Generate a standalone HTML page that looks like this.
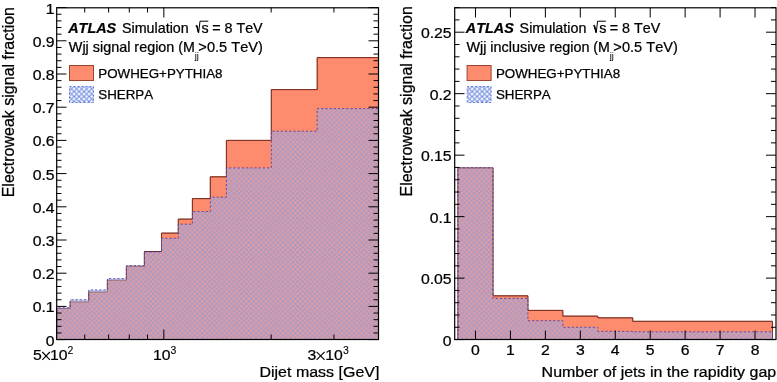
<!DOCTYPE html>
<html><head><meta charset="utf-8"><title>EW signal fraction</title>
<style>html,body{margin:0;padding:0;background:#fff;}body{width:777px;height:382px;overflow:hidden;}
svg{display:block;will-change:transform;filter:blur(0.3px);}
svg text{fill:#000;stroke:#000;stroke-width:0.25px;font-family:"Liberation Sans", sans-serif;font-kerning:none;}</style>
</head><body>
<svg width="777" height="382" viewBox="0 0 777 382">
<defs><pattern id="hatch" x="69.1" y="86.5" width="5" height="5" patternUnits="userSpaceOnUse"><path d="M-1,1 L1,-1 M0,5 L5,0 M4,6 L6,4 M-1,4 L1,6 M0,0 L5,5 M4,-1 L6,1" stroke="#7590e2" stroke-width="1.2"/></pattern><pattern id="hatch2" x="467.1" y="86.5" width="5" height="5" patternUnits="userSpaceOnUse"><path d="M-1,1 L1,-1 M0,5 L5,0 M4,6 L6,4 M-1,4 L1,6 M0,0 L5,5 M4,-1 L6,1" stroke="#7590e2" stroke-width="1.2"/></pattern><pattern id="shp" x="0.1" y="1.1" width="4.9" height="4.9" patternUnits="userSpaceOnUse"><rect x="0" y="0" width="4.9" height="4.9" fill="rgb(168,154,196)"/><rect x="0" y="0" width="2.45" height="2.45" fill="rgb(224,156,162)"/><rect x="2.45" y="2.45" width="2.45" height="2.45" fill="rgb(224,156,162)"/></pattern></defs>
<rect width="777" height="382" fill="#fff"/>
<path d="M56.50,339.50 L56.50,308.50 L70.20,308.50 L70.20,301.90 L88.80,301.90 L88.80,292.00 L107.40,292.00 L107.40,280.20 L126.40,280.20 L126.40,266.30 L144.40,266.30 L144.40,251.50 L161.50,251.50 L161.50,233.10 L178.30,233.10 L178.30,219.10 L192.40,219.10 L192.40,198.60 L210.30,198.60 L210.30,176.80 L226.40,176.80 L226.40,140.40 L271.30,140.40 L271.30,89.60 L317.20,89.60 L317.20,57.60 L378.50,57.60 L378.50,339.50 Z" fill="#fd8b6d" stroke="none"/>
<path d="M56.50,339.50 L56.50,308.50 L70.20,308.50 L70.20,301.90 L88.80,301.90 L88.80,292.00 L107.40,292.00 L107.40,280.20 L126.40,280.20 L126.40,266.30 L144.40,266.30 L144.40,251.50 L161.50,251.50 L161.50,233.10 L178.30,233.10 L178.30,219.10 L192.40,219.10 L192.40,198.60 L210.30,198.60 L210.30,176.80 L226.40,176.80 L226.40,140.40 L271.30,140.40 L271.30,89.60 L317.20,89.60 L317.20,57.60 L378.50,57.60 L378.50,339.50" fill="none" stroke="#7b2d1e" stroke-width="1"/>
<path d="M56.50,339.50 L56.50,307.80 L70.20,307.80 L70.20,299.80 L88.80,299.80 L88.80,289.90 L107.40,289.90 L107.40,278.70 L126.40,278.70 L126.40,265.70 L144.40,265.70 L144.40,251.90 L161.50,251.90 L161.50,238.30 L178.30,238.30 L178.30,224.20 L192.40,224.20 L192.40,211.60 L210.30,211.60 L210.30,197.20 L226.40,197.20 L226.40,167.90 L271.30,167.90 L271.30,131.20 L317.20,131.20 L317.20,108.60 L378.50,108.60 L378.50,339.50 Z" fill="url(#shp)" stroke="none"/>
<rect x="56.50" y="307.80" width="13.70" height="0.70" fill="rgb(190,204,245)"/>
<rect x="70.20" y="299.80" width="18.60" height="2.10" fill="rgb(190,204,245)"/>
<rect x="88.80" y="289.90" width="18.60" height="2.10" fill="rgb(190,204,245)"/>
<rect x="107.40" y="278.70" width="19.00" height="1.50" fill="rgb(190,204,245)"/>
<rect x="126.40" y="265.70" width="18.00" height="0.60" fill="rgb(190,204,245)"/>
<path d="M56.50,339.50 L56.50,308.50 L70.20,308.50 L70.20,301.90 L88.80,301.90 L88.80,292.00 L107.40,292.00 L107.40,280.20 L126.40,280.20 L126.40,266.30 L144.40,266.30 L144.40,251.50 L161.50,251.50 L161.50,233.10 L178.30,233.10 L178.30,219.10 L192.40,219.10 L192.40,198.60 L210.30,198.60 L210.30,176.80 L226.40,176.80 L226.40,140.40 L271.30,140.40 L271.30,89.60 L317.20,89.60 L317.20,57.60 L378.50,57.60 L378.50,339.50" fill="none" stroke="#7b2d1e" stroke-opacity="0.5" stroke-width="1"/>
<path d="M56.50,339.50 L56.50,307.80 L70.20,307.80 L70.20,299.80 L88.80,299.80 L88.80,289.90 L107.40,289.90 L107.40,278.70 L126.40,278.70 L126.40,265.70 L144.40,265.70 L144.40,251.90 L161.50,251.90 L161.50,238.30 L178.30,238.30 L178.30,224.20 L192.40,224.20 L192.40,211.60 L210.30,211.60 L210.30,197.20 L226.40,197.20 L226.40,167.90 L271.30,167.90 L271.30,131.20 L317.20,131.20 L317.20,108.60 L378.50,108.60 L378.50,339.50" fill="none" stroke="#4a3ca8" stroke-opacity="0.85" stroke-width="1" stroke-dasharray="2.1,2.1"/>
<path d="M457.99,339.50 L457.99,168.00 L492.94,168.00 L492.94,295.80 L527.89,295.80 L527.89,310.40 L562.83,310.40 L562.83,316.10 L597.78,316.10 L597.78,317.80 L632.72,317.80 L632.72,321.30 L667.67,321.30 L667.67,321.30 L702.61,321.30 L702.61,321.30 L737.56,321.30 L737.56,321.30 L772.51,321.30 L772.51,339.50 Z" fill="#fd8b6d" stroke="none"/>
<path d="M457.99,339.50 L457.99,168.00 L492.94,168.00 L492.94,295.80 L527.89,295.80 L527.89,310.40 L562.83,310.40 L562.83,316.10 L597.78,316.10 L597.78,317.80 L632.72,317.80 L632.72,321.30 L667.67,321.30 L667.67,321.30 L702.61,321.30 L702.61,321.30 L737.56,321.30 L737.56,321.30 L772.51,321.30 L772.51,339.50" fill="none" stroke="#7b2d1e" stroke-width="1"/>
<path d="M457.99,339.50 L457.99,167.70 L492.94,167.70 L492.94,298.40 L527.89,298.40 L527.89,320.70 L562.83,320.70 L562.83,327.30 L597.78,327.30 L597.78,331.40 L632.72,331.40 L632.72,331.80 L667.67,331.80 L667.67,331.80 L702.61,331.80 L702.61,331.80 L737.56,331.80 L737.56,331.80 L772.51,331.80 L772.51,339.50 Z" fill="url(#shp)" stroke="none"/>
<path d="M457.99,339.50 L457.99,168.00 L492.94,168.00 L492.94,295.80 L527.89,295.80 L527.89,310.40 L562.83,310.40 L562.83,316.10 L597.78,316.10 L597.78,317.80 L632.72,317.80 L632.72,321.30 L667.67,321.30 L667.67,321.30 L702.61,321.30 L702.61,321.30 L737.56,321.30 L737.56,321.30 L772.51,321.30 L772.51,339.50" fill="none" stroke="#7b2d1e" stroke-opacity="0.5" stroke-width="1"/>
<path d="M457.99,339.50 L457.99,167.70 L492.94,167.70 L492.94,298.40 L527.89,298.40 L527.89,320.70 L562.83,320.70 L562.83,327.30 L597.78,327.30 L597.78,331.40 L632.72,331.40 L632.72,331.80 L667.67,331.80 L667.67,331.80 L702.61,331.80 L702.61,331.80 L737.56,331.80 L737.56,331.80 L772.51,331.80 L772.51,339.50" fill="none" stroke="#4a3ca8" stroke-opacity="0.85" stroke-width="1" stroke-dasharray="2.1,2.1"/>
<rect x="56.7" y="7.8" width="321.8" height="331.7" fill="none" stroke="#000" stroke-width="1.2"/>
<rect x="454.7" y="7.8" width="321.3" height="331.7" fill="none" stroke="#000" stroke-width="1.2"/>
<line x1="56.50" y1="339.60" x2="66.50" y2="339.60" stroke="#000" stroke-width="1" />
<line x1="378.50" y1="339.60" x2="368.50" y2="339.60" stroke="#000" stroke-width="1" />
<line x1="56.50" y1="332.96" x2="61.50" y2="332.96" stroke="#000" stroke-width="1" />
<line x1="378.50" y1="332.96" x2="373.50" y2="332.96" stroke="#000" stroke-width="1" />
<line x1="56.50" y1="326.32" x2="61.50" y2="326.32" stroke="#000" stroke-width="1" />
<line x1="378.50" y1="326.32" x2="373.50" y2="326.32" stroke="#000" stroke-width="1" />
<line x1="56.50" y1="319.68" x2="61.50" y2="319.68" stroke="#000" stroke-width="1" />
<line x1="378.50" y1="319.68" x2="373.50" y2="319.68" stroke="#000" stroke-width="1" />
<line x1="56.50" y1="313.04" x2="61.50" y2="313.04" stroke="#000" stroke-width="1" />
<line x1="378.50" y1="313.04" x2="373.50" y2="313.04" stroke="#000" stroke-width="1" />
<line x1="56.50" y1="306.40" x2="66.50" y2="306.40" stroke="#000" stroke-width="1" />
<line x1="378.50" y1="306.40" x2="368.50" y2="306.40" stroke="#000" stroke-width="1" />
<line x1="56.50" y1="299.76" x2="61.50" y2="299.76" stroke="#000" stroke-width="1" />
<line x1="378.50" y1="299.76" x2="373.50" y2="299.76" stroke="#000" stroke-width="1" />
<line x1="56.50" y1="293.12" x2="61.50" y2="293.12" stroke="#000" stroke-width="1" />
<line x1="378.50" y1="293.12" x2="373.50" y2="293.12" stroke="#000" stroke-width="1" />
<line x1="56.50" y1="286.48" x2="61.50" y2="286.48" stroke="#000" stroke-width="1" />
<line x1="378.50" y1="286.48" x2="373.50" y2="286.48" stroke="#000" stroke-width="1" />
<line x1="56.50" y1="279.84" x2="61.50" y2="279.84" stroke="#000" stroke-width="1" />
<line x1="378.50" y1="279.84" x2="373.50" y2="279.84" stroke="#000" stroke-width="1" />
<line x1="56.50" y1="273.20" x2="66.50" y2="273.20" stroke="#000" stroke-width="1" />
<line x1="378.50" y1="273.20" x2="368.50" y2="273.20" stroke="#000" stroke-width="1" />
<line x1="56.50" y1="266.56" x2="61.50" y2="266.56" stroke="#000" stroke-width="1" />
<line x1="378.50" y1="266.56" x2="373.50" y2="266.56" stroke="#000" stroke-width="1" />
<line x1="56.50" y1="259.92" x2="61.50" y2="259.92" stroke="#000" stroke-width="1" />
<line x1="378.50" y1="259.92" x2="373.50" y2="259.92" stroke="#000" stroke-width="1" />
<line x1="56.50" y1="253.28" x2="61.50" y2="253.28" stroke="#000" stroke-width="1" />
<line x1="378.50" y1="253.28" x2="373.50" y2="253.28" stroke="#000" stroke-width="1" />
<line x1="56.50" y1="246.64" x2="61.50" y2="246.64" stroke="#000" stroke-width="1" />
<line x1="378.50" y1="246.64" x2="373.50" y2="246.64" stroke="#000" stroke-width="1" />
<line x1="56.50" y1="240.00" x2="66.50" y2="240.00" stroke="#000" stroke-width="1" />
<line x1="378.50" y1="240.00" x2="368.50" y2="240.00" stroke="#000" stroke-width="1" />
<line x1="56.50" y1="233.36" x2="61.50" y2="233.36" stroke="#000" stroke-width="1" />
<line x1="378.50" y1="233.36" x2="373.50" y2="233.36" stroke="#000" stroke-width="1" />
<line x1="56.50" y1="226.72" x2="61.50" y2="226.72" stroke="#000" stroke-width="1" />
<line x1="378.50" y1="226.72" x2="373.50" y2="226.72" stroke="#000" stroke-width="1" />
<line x1="56.50" y1="220.08" x2="61.50" y2="220.08" stroke="#000" stroke-width="1" />
<line x1="378.50" y1="220.08" x2="373.50" y2="220.08" stroke="#000" stroke-width="1" />
<line x1="56.50" y1="213.44" x2="61.50" y2="213.44" stroke="#000" stroke-width="1" />
<line x1="378.50" y1="213.44" x2="373.50" y2="213.44" stroke="#000" stroke-width="1" />
<line x1="56.50" y1="206.80" x2="66.50" y2="206.80" stroke="#000" stroke-width="1" />
<line x1="378.50" y1="206.80" x2="368.50" y2="206.80" stroke="#000" stroke-width="1" />
<line x1="56.50" y1="200.16" x2="61.50" y2="200.16" stroke="#000" stroke-width="1" />
<line x1="378.50" y1="200.16" x2="373.50" y2="200.16" stroke="#000" stroke-width="1" />
<line x1="56.50" y1="193.52" x2="61.50" y2="193.52" stroke="#000" stroke-width="1" />
<line x1="378.50" y1="193.52" x2="373.50" y2="193.52" stroke="#000" stroke-width="1" />
<line x1="56.50" y1="186.88" x2="61.50" y2="186.88" stroke="#000" stroke-width="1" />
<line x1="378.50" y1="186.88" x2="373.50" y2="186.88" stroke="#000" stroke-width="1" />
<line x1="56.50" y1="180.24" x2="61.50" y2="180.24" stroke="#000" stroke-width="1" />
<line x1="378.50" y1="180.24" x2="373.50" y2="180.24" stroke="#000" stroke-width="1" />
<line x1="56.50" y1="173.60" x2="66.50" y2="173.60" stroke="#000" stroke-width="1" />
<line x1="378.50" y1="173.60" x2="368.50" y2="173.60" stroke="#000" stroke-width="1" />
<line x1="56.50" y1="166.96" x2="61.50" y2="166.96" stroke="#000" stroke-width="1" />
<line x1="378.50" y1="166.96" x2="373.50" y2="166.96" stroke="#000" stroke-width="1" />
<line x1="56.50" y1="160.32" x2="61.50" y2="160.32" stroke="#000" stroke-width="1" />
<line x1="378.50" y1="160.32" x2="373.50" y2="160.32" stroke="#000" stroke-width="1" />
<line x1="56.50" y1="153.68" x2="61.50" y2="153.68" stroke="#000" stroke-width="1" />
<line x1="378.50" y1="153.68" x2="373.50" y2="153.68" stroke="#000" stroke-width="1" />
<line x1="56.50" y1="147.04" x2="61.50" y2="147.04" stroke="#000" stroke-width="1" />
<line x1="378.50" y1="147.04" x2="373.50" y2="147.04" stroke="#000" stroke-width="1" />
<line x1="56.50" y1="140.40" x2="66.50" y2="140.40" stroke="#000" stroke-width="1" />
<line x1="378.50" y1="140.40" x2="368.50" y2="140.40" stroke="#000" stroke-width="1" />
<line x1="56.50" y1="133.76" x2="61.50" y2="133.76" stroke="#000" stroke-width="1" />
<line x1="378.50" y1="133.76" x2="373.50" y2="133.76" stroke="#000" stroke-width="1" />
<line x1="56.50" y1="127.12" x2="61.50" y2="127.12" stroke="#000" stroke-width="1" />
<line x1="378.50" y1="127.12" x2="373.50" y2="127.12" stroke="#000" stroke-width="1" />
<line x1="56.50" y1="120.48" x2="61.50" y2="120.48" stroke="#000" stroke-width="1" />
<line x1="378.50" y1="120.48" x2="373.50" y2="120.48" stroke="#000" stroke-width="1" />
<line x1="56.50" y1="113.84" x2="61.50" y2="113.84" stroke="#000" stroke-width="1" />
<line x1="378.50" y1="113.84" x2="373.50" y2="113.84" stroke="#000" stroke-width="1" />
<line x1="56.50" y1="107.20" x2="66.50" y2="107.20" stroke="#000" stroke-width="1" />
<line x1="378.50" y1="107.20" x2="368.50" y2="107.20" stroke="#000" stroke-width="1" />
<line x1="56.50" y1="100.56" x2="61.50" y2="100.56" stroke="#000" stroke-width="1" />
<line x1="378.50" y1="100.56" x2="373.50" y2="100.56" stroke="#000" stroke-width="1" />
<line x1="56.50" y1="93.92" x2="61.50" y2="93.92" stroke="#000" stroke-width="1" />
<line x1="378.50" y1="93.92" x2="373.50" y2="93.92" stroke="#000" stroke-width="1" />
<line x1="56.50" y1="87.28" x2="61.50" y2="87.28" stroke="#000" stroke-width="1" />
<line x1="378.50" y1="87.28" x2="373.50" y2="87.28" stroke="#000" stroke-width="1" />
<line x1="56.50" y1="80.64" x2="61.50" y2="80.64" stroke="#000" stroke-width="1" />
<line x1="378.50" y1="80.64" x2="373.50" y2="80.64" stroke="#000" stroke-width="1" />
<line x1="56.50" y1="74.00" x2="66.50" y2="74.00" stroke="#000" stroke-width="1" />
<line x1="378.50" y1="74.00" x2="368.50" y2="74.00" stroke="#000" stroke-width="1" />
<line x1="56.50" y1="67.36" x2="61.50" y2="67.36" stroke="#000" stroke-width="1" />
<line x1="378.50" y1="67.36" x2="373.50" y2="67.36" stroke="#000" stroke-width="1" />
<line x1="56.50" y1="60.72" x2="61.50" y2="60.72" stroke="#000" stroke-width="1" />
<line x1="378.50" y1="60.72" x2="373.50" y2="60.72" stroke="#000" stroke-width="1" />
<line x1="56.50" y1="54.08" x2="61.50" y2="54.08" stroke="#000" stroke-width="1" />
<line x1="378.50" y1="54.08" x2="373.50" y2="54.08" stroke="#000" stroke-width="1" />
<line x1="56.50" y1="47.44" x2="61.50" y2="47.44" stroke="#000" stroke-width="1" />
<line x1="378.50" y1="47.44" x2="373.50" y2="47.44" stroke="#000" stroke-width="1" />
<line x1="56.50" y1="40.80" x2="66.50" y2="40.80" stroke="#000" stroke-width="1" />
<line x1="378.50" y1="40.80" x2="368.50" y2="40.80" stroke="#000" stroke-width="1" />
<line x1="56.50" y1="34.16" x2="61.50" y2="34.16" stroke="#000" stroke-width="1" />
<line x1="378.50" y1="34.16" x2="373.50" y2="34.16" stroke="#000" stroke-width="1" />
<line x1="56.50" y1="27.52" x2="61.50" y2="27.52" stroke="#000" stroke-width="1" />
<line x1="378.50" y1="27.52" x2="373.50" y2="27.52" stroke="#000" stroke-width="1" />
<line x1="56.50" y1="20.88" x2="61.50" y2="20.88" stroke="#000" stroke-width="1" />
<line x1="378.50" y1="20.88" x2="373.50" y2="20.88" stroke="#000" stroke-width="1" />
<line x1="56.50" y1="14.24" x2="61.50" y2="14.24" stroke="#000" stroke-width="1" />
<line x1="378.50" y1="14.24" x2="373.50" y2="14.24" stroke="#000" stroke-width="1" />
<line x1="56.50" y1="7.60" x2="66.50" y2="7.60" stroke="#000" stroke-width="1" />
<line x1="378.50" y1="7.60" x2="368.50" y2="7.60" stroke="#000" stroke-width="1" />
<line x1="84.73" y1="339.50" x2="84.73" y2="334.50" stroke="#000" stroke-width="1" />
<line x1="84.73" y1="7.50" x2="84.73" y2="12.50" stroke="#000" stroke-width="1" />
<line x1="108.60" y1="339.50" x2="108.60" y2="334.50" stroke="#000" stroke-width="1" />
<line x1="108.60" y1="7.50" x2="108.60" y2="12.50" stroke="#000" stroke-width="1" />
<line x1="129.28" y1="339.50" x2="129.28" y2="334.50" stroke="#000" stroke-width="1" />
<line x1="129.28" y1="7.50" x2="129.28" y2="12.50" stroke="#000" stroke-width="1" />
<line x1="147.52" y1="339.50" x2="147.52" y2="334.50" stroke="#000" stroke-width="1" />
<line x1="147.52" y1="7.50" x2="147.52" y2="12.50" stroke="#000" stroke-width="1" />
<line x1="163.83" y1="339.50" x2="163.83" y2="329.50" stroke="#000" stroke-width="1" />
<line x1="163.83" y1="7.50" x2="163.83" y2="17.50" stroke="#000" stroke-width="1" />
<line x1="271.17" y1="339.50" x2="271.17" y2="334.50" stroke="#000" stroke-width="1" />
<line x1="271.17" y1="7.50" x2="271.17" y2="12.50" stroke="#000" stroke-width="1" />
<line x1="333.95" y1="339.50" x2="333.95" y2="334.50" stroke="#000" stroke-width="1" />
<line x1="333.95" y1="7.50" x2="333.95" y2="12.50" stroke="#000" stroke-width="1" />
<line x1="454.50" y1="339.60" x2="464.50" y2="339.60" stroke="#000" stroke-width="1" />
<line x1="776.00" y1="339.60" x2="766.00" y2="339.60" stroke="#000" stroke-width="1" />
<line x1="454.50" y1="327.30" x2="459.50" y2="327.30" stroke="#000" stroke-width="1" />
<line x1="776.00" y1="327.30" x2="771.00" y2="327.30" stroke="#000" stroke-width="1" />
<line x1="454.50" y1="315.01" x2="459.50" y2="315.01" stroke="#000" stroke-width="1" />
<line x1="776.00" y1="315.01" x2="771.00" y2="315.01" stroke="#000" stroke-width="1" />
<line x1="454.50" y1="302.71" x2="459.50" y2="302.71" stroke="#000" stroke-width="1" />
<line x1="776.00" y1="302.71" x2="771.00" y2="302.71" stroke="#000" stroke-width="1" />
<line x1="454.50" y1="290.41" x2="459.50" y2="290.41" stroke="#000" stroke-width="1" />
<line x1="776.00" y1="290.41" x2="771.00" y2="290.41" stroke="#000" stroke-width="1" />
<line x1="454.50" y1="278.12" x2="464.50" y2="278.12" stroke="#000" stroke-width="1" />
<line x1="776.00" y1="278.12" x2="766.00" y2="278.12" stroke="#000" stroke-width="1" />
<line x1="454.50" y1="265.82" x2="459.50" y2="265.82" stroke="#000" stroke-width="1" />
<line x1="776.00" y1="265.82" x2="771.00" y2="265.82" stroke="#000" stroke-width="1" />
<line x1="454.50" y1="253.53" x2="459.50" y2="253.53" stroke="#000" stroke-width="1" />
<line x1="776.00" y1="253.53" x2="771.00" y2="253.53" stroke="#000" stroke-width="1" />
<line x1="454.50" y1="241.23" x2="459.50" y2="241.23" stroke="#000" stroke-width="1" />
<line x1="776.00" y1="241.23" x2="771.00" y2="241.23" stroke="#000" stroke-width="1" />
<line x1="454.50" y1="228.93" x2="459.50" y2="228.93" stroke="#000" stroke-width="1" />
<line x1="776.00" y1="228.93" x2="771.00" y2="228.93" stroke="#000" stroke-width="1" />
<line x1="454.50" y1="216.64" x2="464.50" y2="216.64" stroke="#000" stroke-width="1" />
<line x1="776.00" y1="216.64" x2="766.00" y2="216.64" stroke="#000" stroke-width="1" />
<line x1="454.50" y1="204.34" x2="459.50" y2="204.34" stroke="#000" stroke-width="1" />
<line x1="776.00" y1="204.34" x2="771.00" y2="204.34" stroke="#000" stroke-width="1" />
<line x1="454.50" y1="192.04" x2="459.50" y2="192.04" stroke="#000" stroke-width="1" />
<line x1="776.00" y1="192.04" x2="771.00" y2="192.04" stroke="#000" stroke-width="1" />
<line x1="454.50" y1="179.75" x2="459.50" y2="179.75" stroke="#000" stroke-width="1" />
<line x1="776.00" y1="179.75" x2="771.00" y2="179.75" stroke="#000" stroke-width="1" />
<line x1="454.50" y1="167.45" x2="459.50" y2="167.45" stroke="#000" stroke-width="1" />
<line x1="776.00" y1="167.45" x2="771.00" y2="167.45" stroke="#000" stroke-width="1" />
<line x1="454.50" y1="155.16" x2="464.50" y2="155.16" stroke="#000" stroke-width="1" />
<line x1="776.00" y1="155.16" x2="766.00" y2="155.16" stroke="#000" stroke-width="1" />
<line x1="454.50" y1="142.86" x2="459.50" y2="142.86" stroke="#000" stroke-width="1" />
<line x1="776.00" y1="142.86" x2="771.00" y2="142.86" stroke="#000" stroke-width="1" />
<line x1="454.50" y1="130.56" x2="459.50" y2="130.56" stroke="#000" stroke-width="1" />
<line x1="776.00" y1="130.56" x2="771.00" y2="130.56" stroke="#000" stroke-width="1" />
<line x1="454.50" y1="118.27" x2="459.50" y2="118.27" stroke="#000" stroke-width="1" />
<line x1="776.00" y1="118.27" x2="771.00" y2="118.27" stroke="#000" stroke-width="1" />
<line x1="454.50" y1="105.97" x2="459.50" y2="105.97" stroke="#000" stroke-width="1" />
<line x1="776.00" y1="105.97" x2="771.00" y2="105.97" stroke="#000" stroke-width="1" />
<line x1="454.50" y1="93.67" x2="464.50" y2="93.67" stroke="#000" stroke-width="1" />
<line x1="776.00" y1="93.67" x2="766.00" y2="93.67" stroke="#000" stroke-width="1" />
<line x1="454.50" y1="81.38" x2="459.50" y2="81.38" stroke="#000" stroke-width="1" />
<line x1="776.00" y1="81.38" x2="771.00" y2="81.38" stroke="#000" stroke-width="1" />
<line x1="454.50" y1="69.08" x2="459.50" y2="69.08" stroke="#000" stroke-width="1" />
<line x1="776.00" y1="69.08" x2="771.00" y2="69.08" stroke="#000" stroke-width="1" />
<line x1="454.50" y1="56.79" x2="459.50" y2="56.79" stroke="#000" stroke-width="1" />
<line x1="776.00" y1="56.79" x2="771.00" y2="56.79" stroke="#000" stroke-width="1" />
<line x1="454.50" y1="44.49" x2="459.50" y2="44.49" stroke="#000" stroke-width="1" />
<line x1="776.00" y1="44.49" x2="771.00" y2="44.49" stroke="#000" stroke-width="1" />
<line x1="454.50" y1="32.19" x2="464.50" y2="32.19" stroke="#000" stroke-width="1" />
<line x1="776.00" y1="32.19" x2="766.00" y2="32.19" stroke="#000" stroke-width="1" />
<line x1="454.50" y1="19.90" x2="459.50" y2="19.90" stroke="#000" stroke-width="1" />
<line x1="776.00" y1="19.90" x2="771.00" y2="19.90" stroke="#000" stroke-width="1" />
<line x1="454.50" y1="7.60" x2="459.50" y2="7.60" stroke="#000" stroke-width="1" />
<line x1="776.00" y1="7.60" x2="771.00" y2="7.60" stroke="#000" stroke-width="1" />
<line x1="475.47" y1="339.50" x2="475.47" y2="330.50" stroke="#000" stroke-width="1" />
<line x1="475.47" y1="7.50" x2="475.47" y2="17.50" stroke="#000" stroke-width="1" />
<line x1="510.41" y1="339.50" x2="510.41" y2="330.50" stroke="#000" stroke-width="1" />
<line x1="510.41" y1="7.50" x2="510.41" y2="17.50" stroke="#000" stroke-width="1" />
<line x1="545.36" y1="339.50" x2="545.36" y2="330.50" stroke="#000" stroke-width="1" />
<line x1="545.36" y1="7.50" x2="545.36" y2="17.50" stroke="#000" stroke-width="1" />
<line x1="580.30" y1="339.50" x2="580.30" y2="330.50" stroke="#000" stroke-width="1" />
<line x1="580.30" y1="7.50" x2="580.30" y2="17.50" stroke="#000" stroke-width="1" />
<line x1="615.25" y1="339.50" x2="615.25" y2="330.50" stroke="#000" stroke-width="1" />
<line x1="615.25" y1="7.50" x2="615.25" y2="17.50" stroke="#000" stroke-width="1" />
<line x1="650.20" y1="339.50" x2="650.20" y2="330.50" stroke="#000" stroke-width="1" />
<line x1="650.20" y1="7.50" x2="650.20" y2="17.50" stroke="#000" stroke-width="1" />
<line x1="685.14" y1="339.50" x2="685.14" y2="330.50" stroke="#000" stroke-width="1" />
<line x1="685.14" y1="7.50" x2="685.14" y2="17.50" stroke="#000" stroke-width="1" />
<line x1="720.09" y1="339.50" x2="720.09" y2="330.50" stroke="#000" stroke-width="1" />
<line x1="720.09" y1="7.50" x2="720.09" y2="17.50" stroke="#000" stroke-width="1" />
<line x1="755.03" y1="339.50" x2="755.03" y2="330.50" stroke="#000" stroke-width="1" />
<line x1="755.03" y1="7.50" x2="755.03" y2="17.50" stroke="#000" stroke-width="1" />
<text transform="translate(54.60,345.60) scale(1,0.97)" font-size="15.8" text-anchor="end" >0</text>
<text transform="translate(54.60,312.40) scale(1,0.97)" font-size="15.8" text-anchor="end" >0.1</text>
<text transform="translate(54.60,279.20) scale(1,0.97)" font-size="15.8" text-anchor="end" >0.2</text>
<text transform="translate(54.60,246.00) scale(1,0.97)" font-size="15.8" text-anchor="end" >0.3</text>
<text transform="translate(54.60,212.80) scale(1,0.97)" font-size="15.8" text-anchor="end" >0.4</text>
<text transform="translate(54.60,179.60) scale(1,0.97)" font-size="15.8" text-anchor="end" >0.5</text>
<text transform="translate(54.60,146.40) scale(1,0.97)" font-size="15.8" text-anchor="end" >0.6</text>
<text transform="translate(54.60,113.20) scale(1,0.97)" font-size="15.8" text-anchor="end" >0.7</text>
<text transform="translate(54.60,80.00) scale(1,0.97)" font-size="15.8" text-anchor="end" >0.8</text>
<text transform="translate(54.60,46.80) scale(1,0.97)" font-size="15.8" text-anchor="end" >0.9</text>
<text transform="translate(54.60,13.60) scale(1,0.97)" font-size="15.8" text-anchor="end" >1</text>
<text transform="translate(451.60,345.60) scale(1,0.97)" font-size="15.8" text-anchor="end" >0</text>
<text transform="translate(451.60,284.12) scale(1,0.97)" font-size="15.8" text-anchor="end" >0.05</text>
<text transform="translate(451.60,222.64) scale(1,0.97)" font-size="15.8" text-anchor="end" >0.1</text>
<text transform="translate(451.60,161.16) scale(1,0.97)" font-size="15.8" text-anchor="end" >0.15</text>
<text transform="translate(451.60,99.67) scale(1,0.97)" font-size="15.8" text-anchor="end" >0.2</text>
<text transform="translate(451.60,38.19) scale(1,0.97)" font-size="15.8" text-anchor="end" >0.25</text>
<text transform="translate(475.47,355.20) scale(1,0.97)" font-size="15.8" text-anchor="middle" >0</text>
<text transform="translate(510.41,355.20) scale(1,0.97)" font-size="15.8" text-anchor="middle" >1</text>
<text transform="translate(545.36,355.20) scale(1,0.97)" font-size="15.8" text-anchor="middle" >2</text>
<text transform="translate(580.30,355.20) scale(1,0.97)" font-size="15.8" text-anchor="middle" >3</text>
<text transform="translate(615.25,355.20) scale(1,0.97)" font-size="15.8" text-anchor="middle" >4</text>
<text transform="translate(650.20,355.20) scale(1,0.97)" font-size="15.8" text-anchor="middle" >5</text>
<text transform="translate(685.14,355.20) scale(1,0.97)" font-size="15.8" text-anchor="middle" >6</text>
<text transform="translate(720.09,355.20) scale(1,0.97)" font-size="15.8" text-anchor="middle" >7</text>
<text transform="translate(755.03,355.20) scale(1,0.97)" font-size="15.8" text-anchor="middle" >8</text>
<text transform="translate(32.90,360.40) scale(1,0.97)" font-size="15.8" >5</text>
<path d="M42.3,352.0 L49.9,359.9 M42.3,359.9 L49.9,352.0" stroke="#000" stroke-width="1.1" fill="none"/>
<text transform="translate(50.00,360.40) scale(1,0.97)" font-size="15.8" >10</text>
<text transform="translate(67.60,353.80) scale(1,0.97)" font-size="10.5" style="stroke-width:0.1px">2</text>
<text transform="translate(152.90,360.40) scale(1,0.97)" font-size="15.8" >10</text>
<text transform="translate(170.50,353.80) scale(1,0.97)" font-size="10.5" style="stroke-width:0.1px">3</text>
<text transform="translate(307.40,360.40) scale(1,0.97)" font-size="15.8" >3</text>
<path d="M316.6,351.8 L324.6,359.9 M316.6,359.9 L324.6,351.8" stroke="#000" stroke-width="1.1" fill="none"/>
<text transform="translate(325.30,360.40) scale(1,0.97)" font-size="15.8" >10</text>
<text transform="translate(342.90,353.80) scale(1,0.97)" font-size="10.5" style="stroke-width:0.1px">3</text>
<text transform="translate(379.40,377.00) scale(1,0.97)" font-size="16" text-anchor="end" >Dijet mass [GeV]</text>
<text transform="translate(776.20,377.00) scale(1,0.97)" font-size="16" text-anchor="end" >Number of jets in the rapidity gap</text>
<text transform="translate(13.9,7) rotate(-90) scale(1,1.0)" font-size="16" text-anchor="end">Electroweak signal fraction</text>
<text transform="translate(411.8,6.2) rotate(-90) scale(1,1.0)" font-size="16" text-anchor="end">Electroweak signal fraction</text>
<text transform="translate(68.20,32.60) scale(1,0.97)" font-size="14.4" font-weight="bold" font-style="italic" >ATLAS</text>
<text transform="translate(122.00,32.50) scale(1,0.97)" font-size="14.3" >Simulation</text>
<path d="M195.5,26.0 L196.7,25.3 L198.6,32.8 L200.0,21.2 L208.3,21.2" fill="none" stroke="#000" stroke-width="1" stroke-linejoin="miter"/>
<path d="M196.8,25.6 L198.5,32.4" fill="none" stroke="#000" stroke-width="1.5"/>
<text transform="translate(201.60,32.50) scale(1,0.97)" font-size="14.3" >s</text>
<text transform="translate(212.20,32.50) scale(1,0.97)" font-size="14.3" >= 8 TeV</text>
<text transform="translate(68.80,51.80) scale(1,0.97)" font-size="14.4" >Wjj signal region</text>
<text transform="translate(178.30,51.80) scale(1,0.97)" font-size="14.2" >(M</text>
<text transform="translate(194.66,58.80) scale(1,0.97)" font-size="9.5" style="stroke-width:0">jj</text>
<text transform="translate(198.36,51.80) scale(1,0.97)" font-size="14.6" >&gt;0.5 TeV)</text>
<rect x="69.5" y="65.5" width="24" height="15" fill="#fd8b6d" stroke="#9a4530" stroke-width="1"/>
<rect x="69.5" y="86.5" width="24" height="16" fill="url(#hatch)" stroke="#5a6fd4" stroke-width="1" stroke-dasharray="2,2" stroke-opacity="0.9"/>
<text transform="translate(98.30,77.50) scale(1,1.0)" font-size="13.35" >POWHEG+PYTHIA8</text>
<text transform="translate(98.30,99.20) scale(1,1.0)" font-size="13.35" >SHERPA</text>
<text transform="translate(465.80,32.60) scale(1,0.97)" font-size="14.4" font-weight="bold" font-style="italic" >ATLAS</text>
<text transform="translate(519.60,32.50) scale(1,0.97)" font-size="14.3" >Simulation</text>
<path d="M593.1,26.0 L594.3,25.3 L596.2,32.8 L597.6,21.2 L605.9000000000001,21.2" fill="none" stroke="#000" stroke-width="1" stroke-linejoin="miter"/>
<path d="M594.4000000000001,25.6 L596.1,32.4" fill="none" stroke="#000" stroke-width="1.5"/>
<text transform="translate(599.20,32.50) scale(1,0.97)" font-size="14.3" >s</text>
<text transform="translate(609.80,32.50) scale(1,0.97)" font-size="14.3" >= 8 TeV</text>
<text transform="translate(466.40,51.80) scale(1,0.97)" font-size="14.4" >Wjj inclusive region</text>
<text transform="translate(593.30,51.80) scale(1,0.97)" font-size="14.2" >(M</text>
<text transform="translate(609.66,58.80) scale(1,0.97)" font-size="9.5" style="stroke-width:0">jj</text>
<text transform="translate(613.36,51.80) scale(1,0.97)" font-size="14.6" >&gt;0.5 TeV)</text>
<rect x="467.1" y="65.5" width="24" height="15" fill="#fd8b6d" stroke="#9a4530" stroke-width="1"/>
<rect x="467.1" y="86.5" width="24" height="16" fill="url(#hatch2)" stroke="#5a6fd4" stroke-width="1" stroke-dasharray="2,2" stroke-opacity="0.9"/>
<text transform="translate(495.90,77.50) scale(1,1.0)" font-size="13.35" >POWHEG+PYTHIA8</text>
<text transform="translate(495.90,99.20) scale(1,1.0)" font-size="13.35" >SHERPA</text>
</svg>
</body></html>
